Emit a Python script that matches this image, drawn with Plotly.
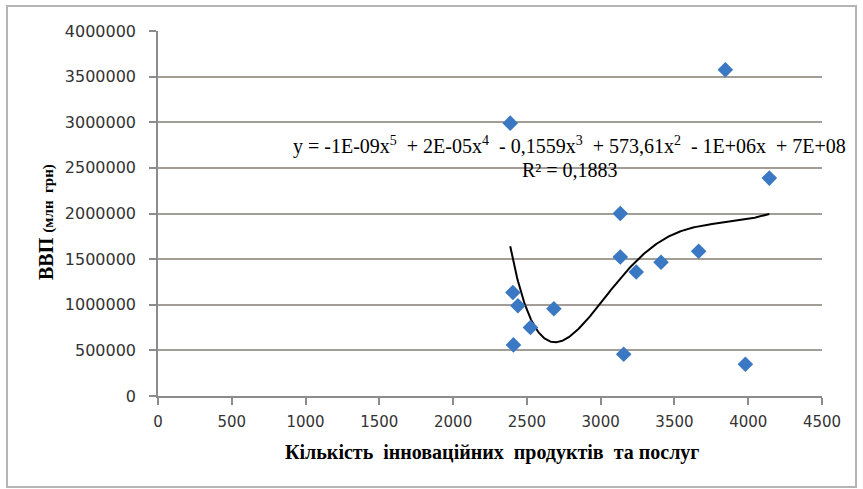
import numpy as np
import plotly.graph_objects as go

# Data
innov = [2387, 2405, 2409, 2439, 2524, 2683, 3133, 3133, 3156, 3241, 3409, 3664, 3845, 3981, 4143]
gdp = [2990000, 1135000, 560000, 989000, 751000, 956000, 2000000, 1524000, 458000,
       1359000, 1465000, 1586000, 3575000, 348000, 2388000]

x_ticks = [0, 500, 1000, 1500, 2000, 2500, 3000, 3500, 4000, 4500]
y_ticks = [0, 500000, 1000000, 1500000, 2000000, 2500000, 3000000, 3500000, 4000000]

# 5th-degree polynomial trendline fitted to the data
xa = np.array(innov, dtype=float)
ya = np.array(gdp, dtype=float)
xm, xs = xa.mean(), xa.std()
coef = np.polyfit((xa - xm) / xs, ya, 5)
xt = np.linspace(xa.min(), xa.max(), 300)
yt = np.polyval(coef, (xt - xm) / xs)

serif = "Liberation Serif"
sans = "DejaVu Sans"

fig = go.Figure()
fig.add_trace(go.Scatter(x=xt, y=yt, mode="lines",
                         line=dict(color="black", width=2), hoverinfo="skip"))
fig.add_trace(go.Scatter(x=innov, y=gdp, mode="markers",
                         marker=dict(symbol="diamond", size=12, color="#3a78c3")))

L, R, T, B = 158, 822, 31, 396
W, H = R - L, B - T

def px(p):
    return (p - L) / W

def py(p):
    return (B - p) / H

fig.update_layout(
    width=863, height=489,
    margin=dict(l=L, r=863 - R, t=T, b=489 - B),
    paper_bgcolor="white", plot_bgcolor="white",
    showlegend=False,
    font=dict(family=serif, color="black"),
    xaxis=dict(range=[0, 4500], tickvals=x_ticks, ticktext=[str(v) for v in x_ticks],
               showgrid=False, zeroline=False, showline=True, linecolor="#8c8c8c", linewidth=1.5,
               ticks="outside", ticklen=7, tickcolor="#8c8c8c", tickwidth=1.5,
               ticklabelstandoff=4,
               tickfont=dict(family=sans, size=15, color="#333")),
    yaxis=dict(range=[0, 4000000], tickvals=y_ticks, ticktext=[str(v) for v in y_ticks],
               showgrid=True, gridcolor="#a39d98", gridwidth=2, zeroline=False,
               showline=True, linecolor="#8c8c8c", linewidth=1.5,
               ticks="outside", ticklen=7, tickcolor="#8c8c8c", tickwidth=1.5,
               ticklabelstandoff=10,
               tickfont=dict(family=sans, size=16, color="#333")),
    shapes=[dict(type="rect", xref="paper", yref="paper",
                 x0=px(7), x1=px(856), y0=py(487), y1=py(6),
                 line=dict(color="#b5b5b5", width=2), layer="below")],
    annotations=[
        dict(xref="paper", yref="paper", x=px(569), y=py(145),
             text="y = -1E-09x<sup>5</sup>  + 2E-05x<sup>4</sup>  - 0,1559x<sup>3</sup>  + 573,61x<sup>2</sup>  - 1E+06x  + 7E+08",
             showarrow=False, xanchor="center", yanchor="middle",
             font=dict(family=serif, size=20, color="black")),
        dict(xref="paper", yref="paper", x=px(570), y=py(170),
             text="R² = 0,1883", showarrow=False, xanchor="center", yanchor="middle",
             font=dict(family=serif, size=20, color="black")),
        dict(xref="paper", yref="paper", x=px(492), y=py(452),
             text="<b>Кількість  інноваційних  продуктів  та послуг</b>",
             showarrow=False, xanchor="center", yanchor="middle",
             font=dict(family=serif, size=20, color="black")),
        dict(xref="paper", yref="paper", x=px(46), y=py(222),
             text="<b>ВВП <span style='font-size:15px'>(млн  грн)</span></b>",
             showarrow=False, textangle=-90, xanchor="center", yanchor="middle",
             font=dict(family=serif, size=20, color="black")),
    ],
)

fig.write_html("out.html")
